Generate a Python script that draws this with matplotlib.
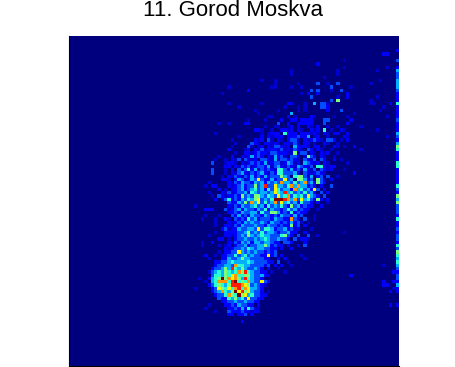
import numpy as np
import matplotlib
matplotlib.use('Agg')
import matplotlib.pyplot as plt

title = '11. Gorod Moskva'

# cell level -> colour value (jet, 0..1)
levels = [0.0, 0.07, 0.12, 0.2, 0.3, 0.4, 0.5, 0.65, 0.75, 0.88, 1.0]

# one entry per row, top to bottom: "column:levels", a = level 10
# later tokens overwrite earlier ones, that is how the bright cells go in
cells = [
    "", "", "", "",
    "",
    "95:22",
    "",
    "83:1",
    "75:2",
    "83:1 96:1",
    "67:1 81:1 93:1",
    "67:1 81:1",
    "77:1",
    "58:1 62:1 94:1",
    "62:1 69:1 75:3 78:1 81:3 91:1",
    "48:1 61:11 67:1 70:1 79:3 85:1",
    "54:2 73:3 75:3 79:1 82:3",
    "46:1 70:1 72:2 75:2 84:2",
    "73:3 81:1 84:2 93:1",
    "79:3 81:6 91:1",
    "48:1 58:1 66:22 74:4 76:33 78:1 71:1 91:11 97:2",
    "51:1 65:1 69:1 71:1 76:33 78:2 95:1",
    "56:1 63:1 69:1 71:1 78:2 82:3 94:1",
    "57:1 67:4 86:1",
    "60:11 66:2 68:1 73:2 74:1 80:1 84:1 96:1",
    "54:1 59:1 64:2 67:22 70:2222 77:33 85:2",
    "45:1 48:1 53:22 63:3 66:2 69:2222 73:2 77:3 84:2",
    "59:1 62:11 66:12 69:2 72:21 75:2 78:1 81:1 88:1",
    "56:22 58:1 61:1 64:2212 69:21 73:212 77:5 79:1 82:21 93:1",
    "44:1 58:1 60:1222 65:5222 70:2221 74:21 77:21 80:22 84:2",
    "51:1 58:2 60:212 63:22 66:2223 70:221 72:4 74:12 78:1 83:21 96:1",
    "49:1 56:212 60:31 63:2102 67:331 71:2123 75:21 78:332 82:1 84:2",
    "50:1 55:321 59:221 62:21 65:2212 68:31 71:22 74:1 77:21 81:1",
    "49:1 54:31 57:12 60:2133 64:2120 68:42 70:22 72:1 74:22 77:1 80:21 83:1 86:2",
    "48:2 53:12 56:21 58:312 61:221 64:312 67:13 69:21 72:32 75:21 79:1 88:1",
    "50:1 53:2212 57:32 59:21 61:332 64:2211 68:612 70:33 73:21 76:212 81:1",
    "45:1 49:20 52:2120 55:4232 60:2 61:142 64:31 67:3 68:32 71:16 73:32 76:21 80:1",
    "44:1 47:1 49:2130 53:3212 58:3321 62:4133 66:2 67:3 68:21 71:3213 76:32 80:2 82:1",
    "43:3 47:12 49:2 50:1021 54:2323 58:2412 62:3312 66:4 67:312 71:4 72:3212 77:21 84:1",
    "47:22 49:0 50:2132 54:3123 58:3241 62:3421 66:3214 70:3 71:2 72:13 75:55 77:212 80:2",
    "43:3 47:1 49:2031 53:3524 57:1323 61:2 62:1553 66:2423 70:1 71:4 72:213 76:3 77:21 79:2 83:1",
    "43:3 47:10 49:2 50:1342 54:1323 58:4 59:2 60:13 62:2553 66:3 67:342 71:3 72:212 75:3 76:21 86:2",
    "46:1 48:21 50:3 51:2132 55:4 56:2 57:324 60:2 61:33 63:3 64:6 65:43 68:5 69:66 71:3 72:14 75:23 78:3 81:1",
    "46:22 48:1 50:2 51:4 52:31 54:24 56:3 57:7 58:3 59:2 60:2 61:42 63:3 64:3 65:7 66:34 69:66 71:4 72:23 75:6 76:3 77:1 79:2",
    "42:1 48:2 49:1 50:3 51:2 52:43 54:3 55:24 57:34 59:2 60:4 61:3 62:4 63:3 64:8 65:4 66:4 67:3 68:5 69:3 70:4 71:8 72:3 73:4 74:2 75:6 76:3 77:2",
    "41:1 43:22 48:2 49:1 50:23 52:42 54:3 55:3 56:6 57:3 58:4 59:9 60:3 61:3 62:7 63:4 64:4 65:3 66:5 67:8 68:4 69:8 70:4 71:4 72:2 73:3 74:2 76:2 79:3",
    "45:2 47:1 49:2 50:2 51:3 52:4 53:2 54:3 55:4 56:5 57:3 58:4 59:2 60:5 61:3 62:7 63:5 64:3 65:4 66:4 67:2 68:8 69:4 70:5 71:3 72:4 73:2 74:7 75:3 77:2",
    "42:1 46:2 47:1 48:3 49:1 50:2 51:3 52:3 53:4 54:2 55:5 56:4 57:3 58:4 59:4 60:3 61:4 62:7 63:5 64:4 65:9 66:4 67:5 68:3 69:4 70:3 71:5 72:3 73:4 74:2 76:3 78:2",
    "43:1 45:3 46:2 47:1 48:2 49:2 50:3 51:2 52:6 53:3 54:4 55:3 56:66 58:4 59:3 60:5 61:4 62:3 63:7 64:4 65:5 66:8 67:3 68:5 69:4 70:5 71:3 72:7 73:4 74:3 75:2 77:3",
    "44:2 46:1 47:3 48:5 49:2 50:3 51:2 52:4 53:3 54:5 55:4 56:6 57:7 58:3 59:4 60:3 61:5 62:aaa 65:9 66:8 67:4 68:8 69:3 70:7 71:4 72:5 73:3 74:2 75:6 76:2 78:2",
    "48:3 49:2 50:2 51:4 52:3 53:6 54:3 55:8 56:4 57:7 58:3 59:5 60:3 61:4 62:8 63:3 64:7 65:4 66:5 67:3 68:4 69:2 70:5 71:3 72:3 73:2 75:2 78:1",
    "38:1 48:2 49:1 50:3 51:2 52:4 53:3 54:3 55:4 56:5 57:3 58:4 59:2 60:5 61:3 62:4 63:3 64:5 65:3 66:2 67:6 68:3 69:4 70:2 71:3 72:2 73:2 76:2",
    "41:222 47:3 48:1 49:2 50:3 51:4 52:2 53:4 54:3 55:3 56:2 57:4 58:3 59:5 60:2 61:4 62:3 63:3 64:2 65:3 66:5 67:3 68:4 69:2 70:3 71:2 72:2 75:1",
    "48:2 49:2 50:3 51:2 52:4 53:3 54:3 55:4 56:4 57:2 58:5 59:3 60:3 61:66 63:4 64:2 65:3 66:2 67:5 68:2 69:3 70:2 71:2",
    "41:1 45:1 49:3 50:2 51:4 52:2 53:3 54:2 55:4 56:3 57:3 58:2 59:4 60:3 61:2 62:3 63:2 64:4 65:3 66:3 67:2 68:4 69:2 70:3 74:1",
    "40:1 44:1 47:2 48:1 50:3 51:2 52:3 53:2 54:5 55:3 56:4 57:2 58:3 59:3 60:3 61:2 62:4 63:3 64:3 65:2 66:2 67:8 68:3 69:2 71:3 74:1",
    "44:1 48:2 49:1 50:2 51:3 52:2 53:4 54:3 55:4 56:3 57:3 58:4 59:3 60:2 61:4 62:3 63:3 64:2 65:3 66:2 67:4 68:2 69:3 70:1 72:1",
    "44:1 47:2 48:2 49:1 50:3 51:2 52:4 53:3 54:3 55:3 56:4 57:3 58:3 59:2 60:4 61:3 62:3 63:2 64:3 65:2 66:2 67:6 68:2 69:3 71:2",
    "46:2 47:3 48:1 49:2 50:2 51:4 52:3 53:3 54:4 55:4 56:3 57:7 58:3 59:55 61:4 62:2 63:3 64:3 65:4 66:2 67:3 68:1 69:2 73:1",
    "44:1 47:2 48:2 49:2 50:2 51:3 52:3 53:4 54:6 55:3 56:4 57:3 58:5 59:3 60:4 61:4 62:3 63:2 64:3 65:3 66:4 67:2 68:2 71:2 83:1",
    "42:1 47:22 49:1 50:2 51:3 52:4 53:3 54:6 55:4 56:3 57:4 58:5 59:4 60:4 61:3 62:3 63:3 64:5 65:6 66:3 67:2 69:3 72:3 75:1",
    "45:22 48:1 50:2 51:3 52:3 53:4 54:3 55:3 56:4 57:3 58:4 59:5 60:4 61:3 62:3 63:4 64:3 65:3 66:2 68:3 70:22 72:1",
    "40:1 43:2 48:2 49:1 50:3 51:2 52:4 53:3 54:4 55:2 56:4 57:4 58:3 59:4 60:4 61:3 62:2 63:2 65:33 67:2 71:2",
    "40:1 45:1 47:1 48:2 50:2 51:3 52:3 53:4 54:2 55:3 56:3 57:4 58:4 59:6 60:4 61:2 62:3 63:2 64:2 66:2 69:2 71:3",
    "47:2 48:1 49:2 50:3 51:3 52:4 53:3 54:5 55:4 56:3 57:4 58:4 59:3 60:3 61:2 62:2 64:2 67:2",
    "45:1 47:2 48:2 49:3 50:3 51:7 52:4 53:3 54:4 55:3 56:4 57:3 58:3 59:2 60:3 61:2 62:3",
    "41:2 44:1 46:2 47:2 48:3 49:3 50:5 51:3 52:4 53:5 54:3 55:4 56:3 57:3 58:2 59:2 60:7 61:2 62:3 64:2 70:1",
    "42:1 46:2 47:2 48:4 49:3 50:3 51:4 52:6 53:4 54:4 55:3 56:3 57:3 58:3 59:2 60:2 63:2 65:2 71:1",
    "44:2 45:2 46:3 47:3 48:4 49:5 50:4 51:4 52:4 53:4 54:5 55:4 56:3 57:3 58:3 59:3 60:2 61:2 63:3 66:1",
    "44:2 45:3 46:3 47:4 48:4 49:3 50:8 51:5 52:5 53:4 54:4 55:3 56:3 57:3 58:3 59:2 60:3 62:2 64:2 67:1 95:1",
    "43:2 44:3 45:3 46:4 47:6 48:4 49:9 50:5 51:4 52:6 53:4 54:3 55:3 56:4 57:3 58:2 60:2 63:1",
    "42:1 43:3 44:4 45:5 46:4 47:6 48:5 49:4 50:5 51:8 52:6 53:9 54:5 55:4 56:3 57:3 58:2 59:2 61:1 65:1 98:2",
    "43:3 44:5 45:5 46:4 47:6 48:5 49:7 50:8 51:5 52:5 53:6 54:6 55:4 56:3 57:3 58:4 59:2 60:2 85:2",
    "39:1 42:2 43:4 44:5 45:6 46:a 47:6 48:8 49:7 50:8 51:6 52:4 53:9 54:5 55:4 56:3 57:3 58:2",
    "41:1 43:4 44:5 45:8 46:8 47:8 48:5 49:9 50:a 51:5 52:6 53:5 54:8 55:4 56:3 57:3 58:7 59:3 60:2 95:2 98:2",
    "42:2 43:3 44:5 45:6 46:5 47:4 48:6 49:9 50:9 51:9 52:8 53:7 54:6 55:3 56:4 57:3 58:2 59:1 95:2 96:2",
    "38:1 43:2 44:3 45:7 46:6 47:5 48:7 49:5 50:8 51:9 52:5 53:8 54:7 55:4 56:4 57:3 58:2 98:1",
    "43:2 44:3 45:4 46:8 47:5 48:4 49:6 50:a 51:7 52:9 53:6 54:7 55:4 56:3 57:3 58:2 60:1 97:2",
    "44:2 45:3 46:3 47:5 48:8 49:6 50:5 51:a 52:6 53:7 54:4 55:5 56:3 57:3 58:2 59:2",
    "45:3 46:2 47:2 48:5 49:4 50:6 51:4 52:5 53:3 54:7 55:3 56:3 57:2 58:2",
    "46:2 47:2 48:3 49:3 50:4 51:3 52:3 53:4 54:3 55:3 56:2 57:2",
    "42:1 47:2 48:2 49:3 50:2 51:4 52:3 53:3 54:2 55:2 57:2 97:2",
    "41:1 48:2 49:2 50:3 51:2 52:4 53:2 54:5 55:3 56:1 57:1",
    "44:1 48:3 49:2 50:2 51:2 52:3 53:2 54:2 55:1 56:22",
    "48:22 51:22 53:3 55:2",
    "",
    "52:2",
    "", "", "", "", "", "", "", "", "", "", "", "", "",
]

# right hand column, one value per row, same order as cells
edge = [
    0, 0, 0, 0, 2, 0, 0, 3, 0, 2, 4, 3, 3, 4, 4, 4, 3, 2, 2, 2,
    5, 2, 2, 2, 2, 3, 2, 2, 2, 4, 3, 2, 4, 6, 5, 2, 2, 2, 5, 5,
    2, 2, 2, 2, 2, 5, 3, 2, 6, 4, 6, 3, 3, 3, 2, 5, 2, 2, 3, 2,
    3, 3, 2, 5, 3, 6, 5, 4, 5, 4, 3, 2, 3, 3, 2, 4, 2, 2, 0, 0,
    0, 2, 0, 0, 0, 0, 0, 0, 0, 0, 0, 0, 0, 0, 0, 0, 0, 0, 0, 0,
]

grid = np.zeros((100, 100))
for r, row in enumerate(cells):
    for tok in row.split():
        c, vals = tok.split(':')
        for k, ch in enumerate(vals):
            grid[r, int(c) + k] = levels[int(ch, 16)]
grid[:, 99] = [levels[v] for v in edge]

plt.rcParams['font.family'] = ['Liberation Sans', 'DejaVu Sans']

fig = plt.figure(figsize=(4.55, 3.67), dpi=100)
ax = fig.add_axes([69 / 455, 1 / 367, 330 / 455, 330 / 367])
ax.imshow(grid, cmap='jet', vmin=0, vmax=1, interpolation='nearest', aspect='auto')
ax.set_xticks([])
ax.set_yticks([])
ax.spines['top'].set_visible(False)
ax.spines['right'].set_visible(False)
ax.spines['left'].set_linewidth(0.8)
ax.spines['bottom'].set_linewidth(0.8)
fig.text(233.5 / 455, 1 - 10.5 / 367, title, ha='center', va='center', fontsize=16, color='black')

fig.savefig('out.png', dpi=100)
